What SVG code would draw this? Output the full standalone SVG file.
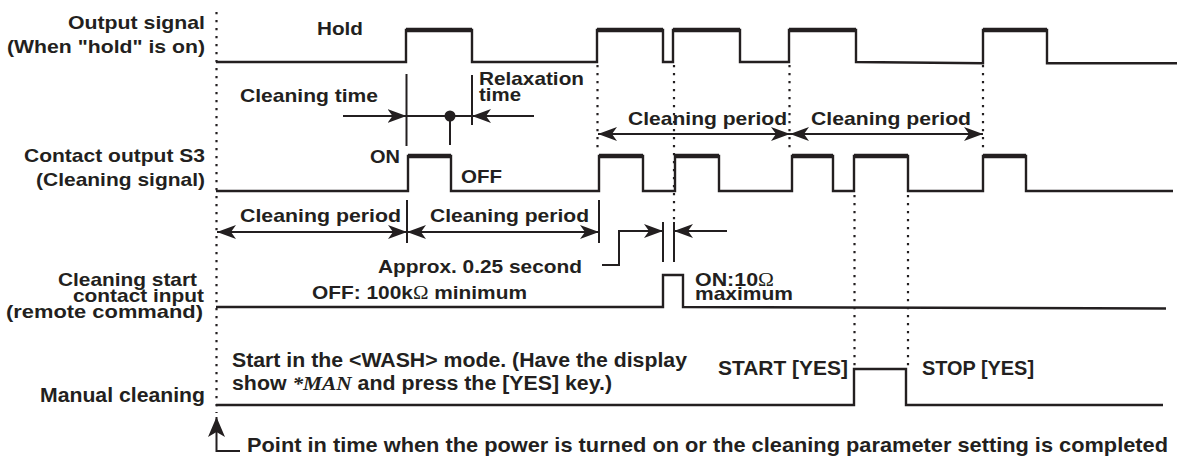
<svg xmlns="http://www.w3.org/2000/svg" width="1203" height="459" viewBox="0 0 1203 459">
<style>
.t{font-family:"Liberation Sans",Arial,Helvetica,sans-serif;font-weight:bold;font-size:18.6px;fill:#231f20}
.b{font-size:19.5px}
.p{font-size:20.5px}
.om{font-family:"Liberation Serif","Times New Roman",serif;font-weight:normal}
.man{font-family:"Liberation Serif","Times New Roman",serif;font-style:italic;font-weight:bold}
.sig{fill:none;stroke:#231f20;stroke-width:2.4;stroke-linejoin:miter}
.hi{stroke:#231f20;stroke-width:4.6}
.dot{stroke:#231f20;stroke-width:2.2;stroke-dasharray:2.2 5.8;fill:none}
.ln{stroke:#231f20;stroke-width:2;fill:none}
.a1{stroke:#231f20;stroke-width:2;fill:none;marker-end:url(#ah)}
.a2{stroke:#231f20;stroke-width:2;fill:none;marker-start:url(#ah);marker-end:url(#ah)}
</style>
<defs>
<marker id="ah" markerUnits="userSpaceOnUse" viewBox="0 0 19 14" markerWidth="19" markerHeight="14" refX="19" refY="7" orient="auto-start-reverse"><path d="M19,7 L0,0 L5,7 L0,14 Z" fill="#231f20"/></marker>
<marker id="ahL" markerUnits="userSpaceOnUse" viewBox="0 0 20 17" markerWidth="20" markerHeight="17" refX="20" refY="8.5" orient="auto"><path d="M20,8.5 L0,0 L5,8.5 L0,17 Z" fill="#231f20"/></marker>
</defs>

<g id="time-origin">
<line class="dot" x1="216.5" y1="12" x2="216.5" y2="413"/>
<polyline class="ln" points="240,451 216.5,451 216.5,417" style="marker-end:url(#ahL)"/>
<text class="t p" x="247" y="451.5" textLength="921" lengthAdjust="spacingAndGlyphs">Point in time when the power is turned on or the cleaning parameter setting is completed</text>
</g>

<g id="output-signal">
<text class="t" x="68" y="28.5" textLength="137" lengthAdjust="spacingAndGlyphs">Output signal</text>
<text class="t" x="7" y="53.3" textLength="198" lengthAdjust="spacingAndGlyphs">(When "hold" is on)</text>
<text class="t" x="317" y="35" textLength="46" lengthAdjust="spacingAndGlyphs">Hold</text>
<polyline class="sig" points="216,62 406,62 406,30 472,30 472,62 597,62 597,30 663,30 663,62 673,62 673,30 740,30 740,62 789,62 789,30 856,30 856,62 983,63.3 983,30 1047,30 1047,63.3 1177,63.3"/>
<line class="hi" x1="406" y1="30" x2="472" y2="30"/>
<line class="hi" x1="597" y1="30" x2="663" y2="30"/>
<line class="hi" x1="673" y1="30" x2="740" y2="30"/>
<line class="hi" x1="789" y1="30" x2="856" y2="30"/>
<line class="hi" x1="983" y1="30" x2="1047" y2="30"/>
</g>

<g id="cleaning-time">
<text class="t" x="240" y="101.7" textLength="138" lengthAdjust="spacingAndGlyphs">Cleaning time</text>
<text class="t" x="479" y="84.5" textLength="105" lengthAdjust="spacingAndGlyphs">Relaxation</text>
<text class="t" x="479" y="101" textLength="42" lengthAdjust="spacingAndGlyphs">time</text>
<line class="ln" x1="406.5" y1="74" x2="406.5" y2="146"/>
<line class="ln" x1="472" y1="75" x2="472" y2="125"/>
<line class="ln" x1="450" y1="116" x2="450" y2="145"/>
<circle cx="450" cy="116" r="5.5" fill="#231f20"/>
<line class="a1" x1="343" y1="116" x2="406.5" y2="116"/>
<line class="ln" x1="406.5" y1="116" x2="472" y2="116"/>
<line class="a1" x1="534" y1="116" x2="472" y2="116"/>
</g>

<g id="cleaning-periods-top">
<line class="dot" x1="597.5" y1="65" x2="597.5" y2="152"/>
<line class="dot" x1="674" y1="65" x2="674" y2="220"/>
<line class="dot" x1="789.5" y1="65" x2="789.5" y2="152"/>
<line class="dot" x1="983" y1="65" x2="983" y2="152"/>
<text class="t" x="628" y="125" textLength="159" lengthAdjust="spacingAndGlyphs">Cleaning period</text>
<text class="t" x="811" y="125" textLength="160" lengthAdjust="spacingAndGlyphs">Cleaning period</text>
<line class="a2" x1="598" y1="134" x2="790" y2="134"/>
<line class="a2" x1="790" y1="134" x2="983" y2="134"/>
</g>

<g id="contact-output-s3">
<text class="t" x="24" y="162" textLength="181" lengthAdjust="spacingAndGlyphs">Contact output S3</text>
<text class="t" x="36" y="186" textLength="169" lengthAdjust="spacingAndGlyphs">(Cleaning signal)</text>
<text class="t" x="370" y="163" textLength="30" lengthAdjust="spacingAndGlyphs">ON</text>
<text class="t" x="461" y="183" textLength="41" lengthAdjust="spacingAndGlyphs">OFF</text>
<polyline class="sig" points="216,191 408,191 408,156 451,156 451,191 599,191 599,156 643,156 643,191 675,191 675,156 719,156 719,191 792,191 792,156 833,156 833,191 854,191 854,156 908,156 908,191 983,191 983,156 1026,156 1026,191 1173,191"/>
<line class="hi" x1="408" y1="156" x2="451" y2="156"/>
<line class="hi" x1="599" y1="156" x2="643" y2="156"/>
<line class="hi" x1="675" y1="156" x2="719" y2="156"/>
<line class="hi" x1="792" y1="156" x2="833" y2="156"/>
<line class="hi" x1="854" y1="156" x2="908" y2="156"/>
<line class="hi" x1="983" y1="156" x2="1026" y2="156"/>
<line class="dot" x1="854.5" y1="195" x2="854.5" y2="367"/>
<line class="dot" x1="908" y1="195" x2="908" y2="367"/>
</g>

<g id="cleaning-periods-mid">
<text class="t" x="240" y="221.7" textLength="161" lengthAdjust="spacingAndGlyphs">Cleaning period</text>
<text class="t" x="430" y="221.7" textLength="159" lengthAdjust="spacingAndGlyphs">Cleaning period</text>
<line class="ln" x1="407" y1="200" x2="407" y2="243"/>
<line class="ln" x1="599" y1="200" x2="599" y2="243"/>
<line class="a2" x1="217" y1="232" x2="407" y2="232"/>
<line class="a2" x1="407" y1="232" x2="599" y2="232"/>
</g>

<g id="cleaning-start-input">
<text class="t" x="58" y="286" textLength="139" lengthAdjust="spacingAndGlyphs">Cleaning start</text>
<text class="t" x="73" y="302" textLength="131" lengthAdjust="spacingAndGlyphs">contact input</text>
<text class="t" x="6" y="318" textLength="197" lengthAdjust="spacingAndGlyphs">(remote command)</text>
<text class="t" x="378" y="273" textLength="204" lengthAdjust="spacingAndGlyphs">Approx. 0.25 second</text>
<text class="t" x="312" y="299" textLength="215" lengthAdjust="spacingAndGlyphs">OFF: 100k<tspan class="om">Ω</tspan> minimum</text>
<text class="t" x="695" y="286" textLength="79" lengthAdjust="spacingAndGlyphs">ON:10<tspan class="om">Ω</tspan></text>
<text class="t" x="695" y="300" textLength="98" lengthAdjust="spacingAndGlyphs">maximum</text>
<polyline class="sig" points="216,307 663,307 663,275 683,275 683,307 1166,308.5"/>
<polyline class="a1" points="602,265 619,265 619,231 663,231"/>
<line class="a1" x1="727" y1="231" x2="674" y2="231"/>
<line class="ln" x1="663" y1="222" x2="663" y2="262"/>
<line class="ln" x1="674" y1="222" x2="674" y2="262"/>
</g>

<g id="manual-cleaning">
<text class="t b" x="40" y="401.5" textLength="165" lengthAdjust="spacingAndGlyphs">Manual cleaning</text>
<text class="t b" x="232" y="366.5" textLength="455" lengthAdjust="spacingAndGlyphs">Start in the &lt;WASH&gt; mode. (Have the display</text>
<text class="t b" x="232" y="390" textLength="380" lengthAdjust="spacingAndGlyphs">show <tspan class="man">*MAN</tspan> and press the [YES] key.)</text>
<text class="t b" x="718" y="375" textLength="130" lengthAdjust="spacingAndGlyphs">START [YES]</text>
<text class="t b" x="922" y="375" textLength="112" lengthAdjust="spacingAndGlyphs">STOP [YES]</text>
<polyline class="sig" points="216,405 854,405 854,369 906,369 906,405 1163,405"/>
</g>
</svg>
